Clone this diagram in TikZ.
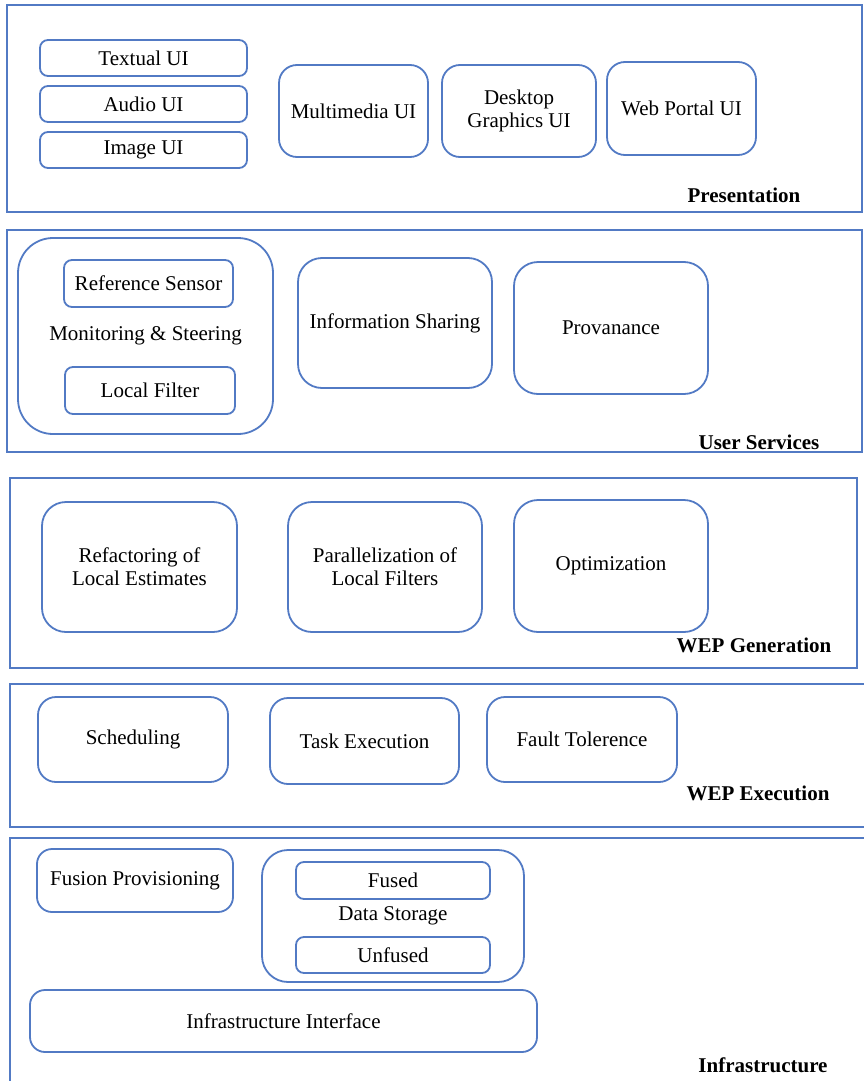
\documentclass[tikz,border=0pt]{standalone}
\usepackage{fontspec}
\setmainfont{Liberation Serif}
\usetikzlibrary{positioning}
\definecolor{boxblue}{RGB}{82,122,196}

\begin{document}
\begin{tikzpicture}[x=1pt, y=-1pt, node distance=10pt,
    every node/.style={font=\fontsize{21}{23}\selectfont},
    layer/.style={draw=boxblue, line width=1.9pt, inner sep=0pt, outer sep=0pt},
    block/.style={draw=boxblue, line width=1.8pt, rounded corners=8pt, align=center, inner sep=2pt, outer sep=0pt},
    tag/.style={font=\fontsize{21}{23}\selectfont\bfseries}]

    \useasboundingbox (0,0) rectangle (863,1081);

    % layers
    \node[layer, minimum width=855pt, minimum height=207pt] (pres) at (434.5,108.5) {};
    \node[layer, minimum width=855pt, minimum height=222pt] (serv) at (434.5,341) {};
    \node[layer, minimum width=847pt, minimum height=190pt] (gen) at (433.5,573) {};
    \node[layer, minimum width=860pt, minimum height=143pt] (exe) at (440,755.5) {};
    \node[layer, minimum width=860pt, minimum height=252pt] (infra) at (440,964) {};

    \node[tag] (presl) at (744,195) {Presentation};
    \node[tag] (servl) at (759,442) {User Services};
    \node[tag] (genl) at (754,645) {WEP Generation};
    \node[tag] (exel) at (758,793) {WEP Execution};
    \node[tag] (infral) at (763,1065) {Infrastructure};

    % presentation
    \node[block, minimum width=207pt, minimum height=36pt] (textual) at (143.5,58) {Textual UI};
    \node[block, minimum width=207pt, minimum height=36pt, below=10pt of textual] (audio) {Audio UI};
    \node[block, minimum width=207pt, minimum height=36pt, below=10pt of audio] (image) {Image UI};
    \node[block, rounded corners=18pt, minimum width=149pt, minimum height=92pt] (multi) at (353.5,111) {Multimedia UI};
    \node[block, rounded corners=18pt, minimum width=154pt, minimum height=92pt, right=14pt of multi] (desk) {Desktop\\Graphics UI};
    \node[block, rounded corners=18pt, minimum width=149pt, minimum height=93pt] (web) at (681.5,108.5) {Web Portal UI};

    % user services
    \node[block, rounded corners=35pt, minimum width=255pt, minimum height=196pt] (monitor) at (145.5,336) {Monitoring \& Steering};
    \node[block, minimum width=169pt, minimum height=47pt] (refsens) at (148.5,283.5) {Reference Sensor};
    \node[block, minimum width=170pt, minimum height=47pt] (locfilt) at (150,390.5) {Local Filter};
    \node[block, rounded corners=24pt, minimum width=194pt, minimum height=130pt] (share) at (395,323) {Information Sharing};
    \node[block, rounded corners=24pt, minimum width=194pt, minimum height=132pt] (prov) at (611,328) {Provanance};

    % wep generation
    \node[block, rounded corners=24pt, minimum width=195pt, minimum height=130pt] (refact) at (139.5,567) {Refactoring of\\Local Estimates};
    \node[block, rounded corners=24pt, minimum width=194pt, minimum height=130pt] (paral) at (385,567) {Parallelization of\\Local Filters};
    \node[block, rounded corners=24pt, minimum width=194pt, minimum height=132pt] (optim) at (611,566) {Optimization};

    % wep execution
    \node[block, rounded corners=18pt, minimum width=190pt, minimum height=85pt] (sched) at (133,739.5) {Scheduling};
    \node[block, rounded corners=18pt, minimum width=189pt, minimum height=86pt] (task) at (364.5,741) {Task Execution};
    \node[block, rounded corners=18pt, minimum width=190pt, minimum height=85pt] (fault) at (582,739.5) {Fault Tolerence};

    % infrastructure
    \node[block, rounded corners=15pt, minimum width=196pt, minimum height=63pt] (fusion) at (135,880.5) {Fusion Provisioning};
    \node[block, rounded corners=26pt, minimum width=262pt, minimum height=132pt] (storage) at (393,916) {Data Storage};
    \node[block, minimum width=194pt, minimum height=37pt] (fused) at (393,880.5) {Fused};
    \node[block, minimum width=194pt, minimum height=36pt] (unfused) at (393,955) {Unfused};
    \node[block, rounded corners=15pt, minimum width=507pt, minimum height=62pt] (iface) at (283.5,1021) {Infrastructure Interface};
\end{tikzpicture}
\end{document}
